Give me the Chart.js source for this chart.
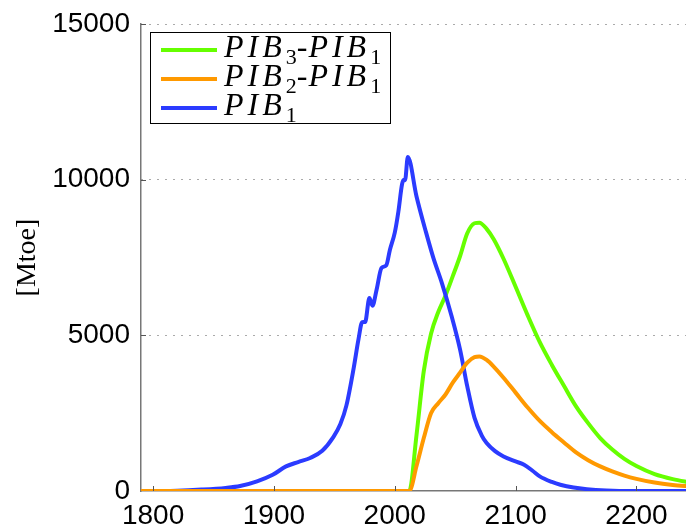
<!DOCTYPE html>
<html>
<head>
<meta charset="utf-8">
<script src="https://cdn.jsdelivr.net/npm/chart.js@4/dist/chart.umd.min.js"></script>
<style>
  body { margin: 0; background: #fff; }
  #wrap { position: relative; width: 686px; height: 529px; overflow: hidden; }
  #legend {
    position: absolute; left: 150px; top: 32px; width: 239px; height: 90px;
    border: 1px solid #000; background: #fff;
    font-family: "Liberation Serif", serif; font-style: italic; font-size: 32px;
  }
  .row { position: absolute; left: 0; height: 29px; line-height: 29px; white-space: nowrap; }
  .sample { position: absolute; left: 10px; top: 13px; width: 56px; height: 4px; }
  .lbl { position: absolute; left: 73px; top: -3px; letter-spacing: 4px; }
  .lbl sub { font-size: 22px; font-style: normal; vertical-align: -7px; line-height: 0; letter-spacing: 0; }
  .lbl .dash { font-style: normal; letter-spacing: 1px; }
</style>
</head>
<body>
<div id="wrap">
  <canvas id="chart" width="686" height="529"></canvas>
  <div id="legend"></div>
</div>
<script>
// PIB1 (historical + projection)
const pib1Years = [1800, 1820, 1840, 1860, 1872, 1886, 1899, 1910, 1920, 1930, 1940, 1949, 1955, 1960,
  1966, 1970, 1973, 1975.5, 1979, 1981.5, 1985, 1989, 1993, 1996, 2000, 2003, 2006, 2007.5, 2008.5,
  2010.8, 2018, 2026, 2032, 2039, 2047, 2054, 2060, 2066, 2072, 2076, 2083, 2090, 2100, 2107, 2114,
  2120, 2130, 2137, 2148, 2159, 2175, 2195, 2245];
const pib1 = [0, 10, 45, 100, 160, 310, 520, 790, 930, 1060, 1290, 1720, 2150, 2750,
  3950, 4880, 5420, 5430, 6200, 5950, 6470, 7160, 7250, 7750, 8300, 8980, 9850, 10000, 9980,
  10730, 9460, 8290, 7480, 6680, 5620, 4550, 3360, 2350, 1780, 1540, 1280, 1110, 950, 845, 650,
  470, 290, 200, 110, 60, 20, 0, 0];

// differences, shared year grid
const diffYears = [1790, 2012, 2018, 2024, 2030, 2036, 2042, 2048, 2054, 2060, 2066, 2070, 2076,
  2082, 2090, 2100, 2110, 2120, 2130, 2140, 2150, 2160, 2170, 2180, 2190, 2200, 2215, 2230, 2245];
const pib3MinusPib1 = [0, 0, 1800, 3850, 5050, 5750, 6280, 6900, 7540, 8280, 8600, 8620, 8420,
  8080, 7460, 6560, 5640, 4780, 4050, 3380, 2720, 2180, 1700, 1330, 1030, 800, 540, 380, 270];
const pib2MinusPib1 = [0, 0, 800, 1700, 2500, 2820, 3100, 3480, 3800, 4120, 4300, 4320, 4210,
  3990, 3640, 3160, 2680, 2250, 1890, 1560, 1240, 990, 790, 630, 495, 390, 270, 195, 150];

const yTicks = [0, 5000, 10000, 15000];

const colors = { green: "#66ff00", orange: "#ff9900", blue: "#2b3bff" };

function pts(xs, ys) {
  return xs.map((x, i) => ({ x: x, y: ys[i] }));
}

// small inward tick marks, like the original axes
const innerTicks = {
  id: "innerTicks",
  afterDraw(chart) {
    const { ctx, chartArea, scales } = chart;
    ctx.save();
    ctx.strokeStyle = "#555";
    ctx.lineWidth = 1;
    scales.x.ticks.forEach(t => {
      const px = Math.round(scales.x.getPixelForValue(t.value)) + 0.5;
      ctx.beginPath();
      ctx.moveTo(px, chartArea.bottom);
      ctx.lineTo(px, chartArea.bottom - 5);
      ctx.stroke();
    });
    scales.y.ticks.forEach(t => {
      if (t.value === 0) return;
      const py = Math.round(scales.y.getPixelForValue(t.value)) + 0.5;
      ctx.beginPath();
      ctx.moveTo(chartArea.left, py);
      ctx.lineTo(chartArea.left + 5, py);
      ctx.stroke();
    });
    ctx.restore();
  }
};

const lineStyle = { borderWidth: 4, pointRadius: 0, fill: false, cubicInterpolationMode: "monotone" };

new Chart(document.getElementById("chart").getContext("2d"), {
  type: "line",
  data: {
    datasets: [
      { label: "PIB2-PIB1", data: pts(diffYears, pib2MinusPib1), borderColor: colors.orange, order: 0, ...lineStyle },
      { label: "PIB1", data: pts(pib1Years, pib1), borderColor: colors.blue, order: 1, ...lineStyle },
      { label: "PIB3-PIB1", data: pts(diffYears, pib3MinusPib1), borderColor: colors.green, order: 2, ...lineStyle },
    ]
  },
  options: {
    responsive: false,
    devicePixelRatio: 1,
    animation: false,
    layout: { padding: { top: 24, left: 0, right: 0, bottom: 0 } },
    plugins: { legend: { display: false }, tooltip: { enabled: false } },
    scales: {
      x: {
        type: "linear",
        min: 1790,
        max: 2241,
        afterFit: s => { s.height = 38; s.paddingLeft = 0; s.paddingRight = 0; },
        grid: { display: false, drawTicks: false },
        border: { display: true, color: "#777", width: 1.5 },
        ticks: {
          stepSize: 100,
          includeBounds: false,
          padding: 8,
          color: "#000",
          font: { family: "Liberation Sans", size: 28 },
          callback: v => String(v)
        }
      },
      y: {
        min: 0,
        max: 15000,
        afterBuildTicks: s => { s.ticks = yTicks.map(v => ({ value: v })); },
        afterFit: s => { s.width = 141; s.paddingTop = 0; s.paddingBottom = 0; },
        grid: {
          drawTicks: false,
          lineWidth: 1,
          color: c => (c.tick && c.tick.value === 0) ? "rgba(0,0,0,0)" : "#555"
        },
        border: { display: true, color: "#777", width: 1.5, dash: [1, 7] },
        ticks: {
          padding: 11,
          color: "#000",
          font: { family: "Liberation Sans", size: 28 },
          callback: v => String(v)
        },
        title: {
          display: true,
          text: "[Mtoe]",
          color: "#000",
          font: { family: "Liberation Serif", size: 28 },
          padding: { top: 11, bottom: 0 }
        }
      }
    }
  },
  plugins: [innerTicks]
});

// legend in the original order
const legendRows = [
  { color: colors.green, html: 'PIB<sub>3</sub><span class="dash">-</span>PIB<sub>1</sub>' },
  { color: colors.orange, html: 'PIB<sub>2</sub><span class="dash">-</span>PIB<sub>1</sub>' },
  { color: colors.blue, html: 'PIB<sub>1</sub>' },
];
const legend = document.getElementById("legend");
legend.innerHTML = legendRows.map((r, i) => `
  <div class="row" style="top:${2 + i * 29}px">
    <div class="sample" style="background:${r.color}"></div>
    <span class="lbl">${r.html}</span>
  </div>`).join("");
</script>
</body>
</html>
